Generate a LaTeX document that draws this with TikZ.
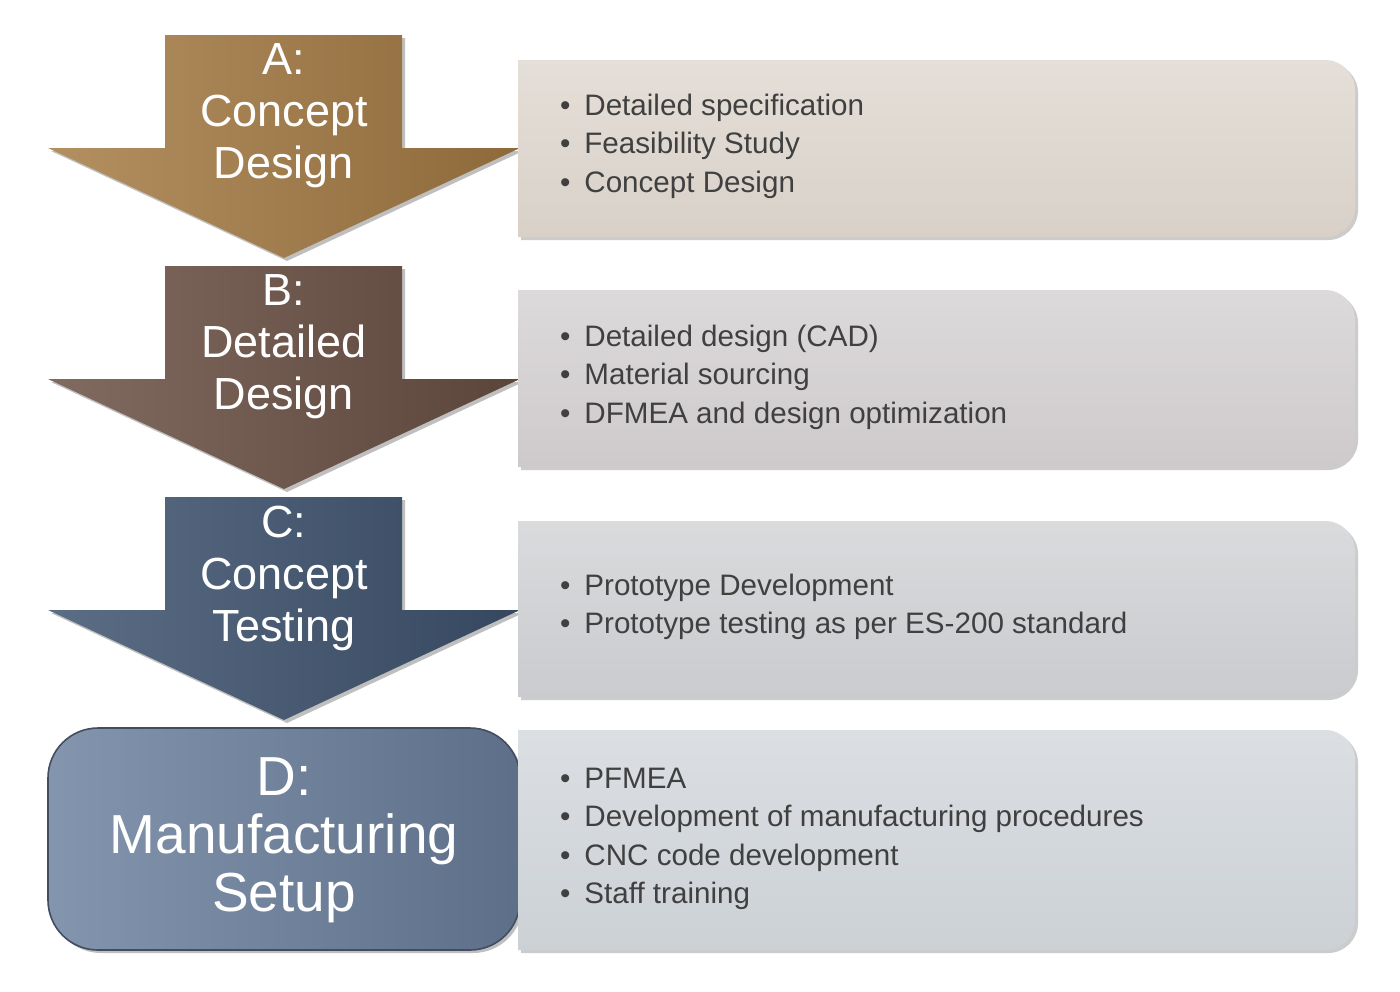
\documentclass[tikz,border=0pt]{standalone}
\usepackage{fontspec}
\setmainfont{Liberation Sans}
\usetikzlibrary{positioning}
\definecolor{stepA}{HTML}{A67C45}
\definecolor{stepB}{HTML}{6B5044}
\definecolor{stepC}{HTML}{3F5470}
\definecolor{stepD}{HTML}{6E82A0}
\definecolor{panelA}{HTML}{D9D1C8}
\definecolor{panelB}{HTML}{CECACB}
\definecolor{panelC}{HTML}{C9CBCE}
\definecolor{panelD}{HTML}{CCD1D6}
\newcommand{\steparrow}[2]{%
  \fill[black!25,shift={(3,3)}] (165,#2) -- (402,#2) -- (402,#2+113) -- (520,#2+113)
    -- (284,#2+223) -- (48,#2+113) -- (165,#2+113) -- cycle;
  \shade[left color=#1!85!white,right color=#1!85!black]
    (165,#2) -- (402,#2) -- (402,#2+113) -- (520,#2+113)
    -- (284,#2+223) -- (48,#2+113) -- (165,#2+113) -- cycle;}
\newcommand{\panel}[3]{%
  \fill[black!20,shift={(3,3)}] (518,#2) [rounded corners=15pt] -- (1355,#2)
    -- (1355,#3) [sharp corners] -- (518,#3) -- cycle;
  \shade[top color=#1!70!white,bottom color=#1]
    (518,#2) [rounded corners=15pt] -- (1355,#2)
    -- (1355,#3) [sharp corners] -- (518,#3) -- cycle;}
\begin{document}
\begin{tikzpicture}[x=0.5pt,y=-0.5pt,
    title/.style={text=white,align=center,font=\fontsize{22.5}{26}\selectfont},
    items/.style={anchor=west,align=left,text=black!75,
      font=\fontsize{14.8}{19.2}\selectfont}]
  \fill[white] (0,0) rectangle (1400,991);
  % step arrows
  \steparrow{stepA}{35}
  \steparrow{stepB}{266}
  \steparrow{stepC}{497}
  \fill[black!25,rounded corners=25pt] (51,731) rectangle (523,953);
  \shade[rounded corners=25pt,left color=stepD!85!white,right color=stepD!85!black,
    draw=stepD!60!black,line width=0.8pt] (48,728) rectangle (520,950);
  % panels
  \panel{panelA}{60}{237}
  \panel{panelB}{290}{467}
  \panel{panelC}{521}{697}
  \panel{panelD}{730}{950}
  % labels
  \node[title] (a) at (284,116) {A:\\Concept\\Design};
  \node[title] (b) at (284,347) {B:\\Detailed\\Design};
  \node[title] (c) at (284,578) {C:\\Concept\\Testing};
  \node[title,font=\fontsize{27.5}{29}\selectfont] (d) at (284,840) {D:\\Manufacturing\\Setup};
  \node[items] (la) at (553,146) {\textbullet\hspace{7pt}Detailed specification\\
    \textbullet\hspace{7pt}Feasibility Study\\\textbullet\hspace{7pt}Concept Design};
  \node[items] (lb) at (553,377) {\textbullet\hspace{7pt}Detailed design (CAD)\\
    \textbullet\hspace{7pt}Material sourcing\\\textbullet\hspace{7pt}DFMEA and design optimization};
  \node[items] (lc) at (553,607) {\textbullet\hspace{7pt}Prototype Development\\
    \textbullet\hspace{7pt}Prototype testing as per ES-200 standard};
  \node[items] (ld) at (553,839) {\textbullet\hspace{7pt}PFMEA\\
    \textbullet\hspace{7pt}Development of manufacturing procedures\\
    \textbullet\hspace{7pt}CNC code development\\\textbullet\hspace{7pt}Staff training};
\end{tikzpicture}
\end{document}
